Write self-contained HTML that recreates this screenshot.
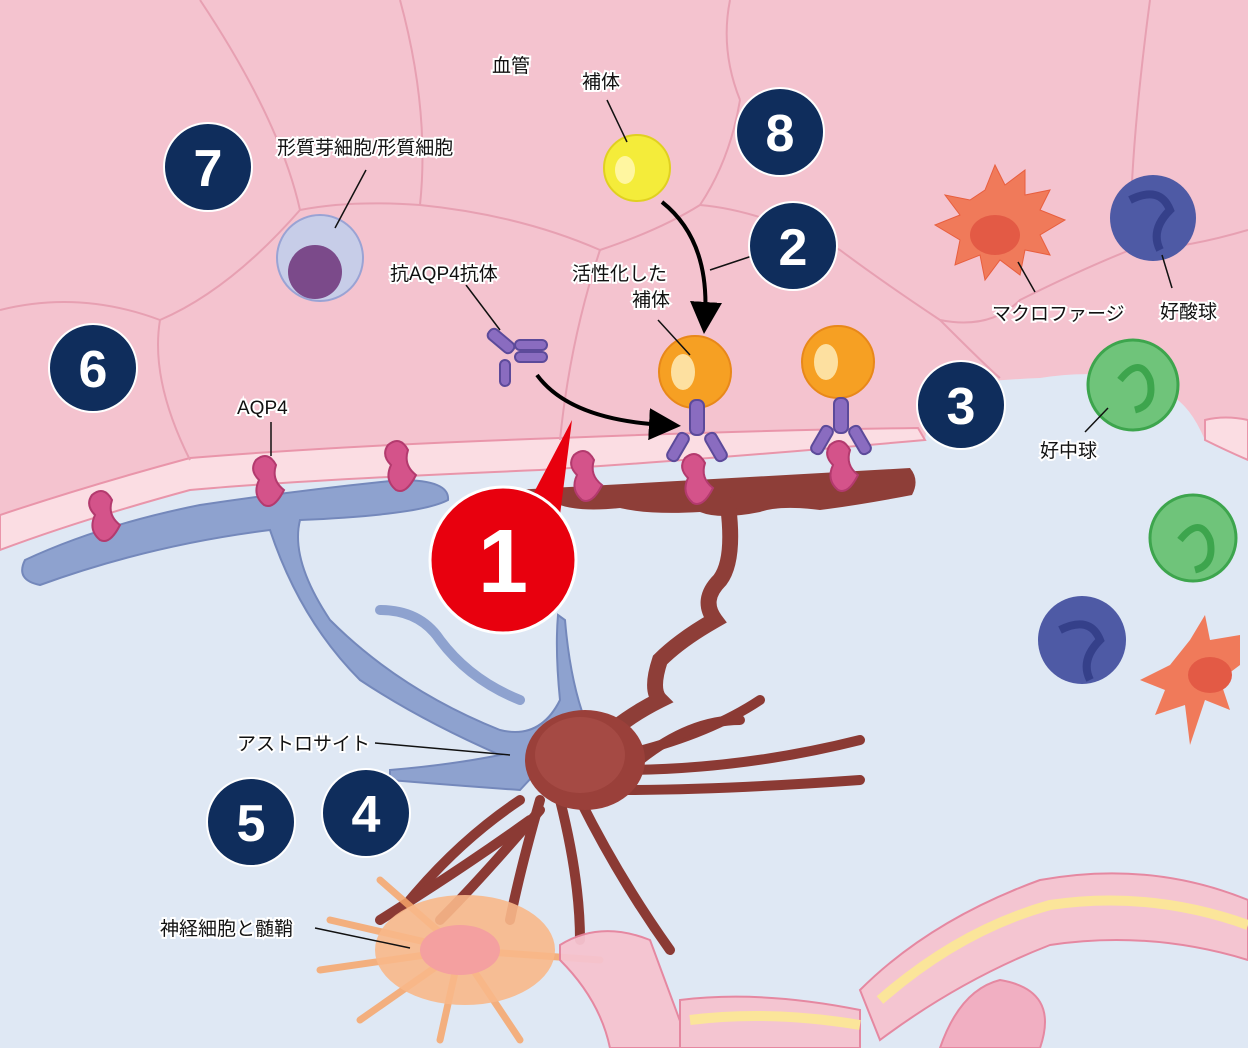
<!DOCTYPE html>
<html><head><meta charset="utf-8"><style>
html,body{margin:0;padding:0;background:#dfe8f4;}
svg{display:block}
text{font-family:"Liberation Sans","Noto Sans CJK JP",sans-serif;}
.lbl{font-size:19px;fill:#111;stroke:#fff;stroke-width:4px;paint-order:stroke;}
.num{font-size:52px;font-weight:bold;fill:#fff;text-anchor:middle;}
</style></head><body>
<svg width="1248" height="1048" viewBox="0 0 1248 1048" xmlns="http://www.w3.org/2000/svg">
<rect width="1248" height="1048" fill="#dfe8f4"/>
<path d="M0,0 H1248 V460 Q1225,450 1205,440 Q1190,405 1170,395 Q1120,365 1040,378 Q990,380 960,385 Q930,395 925,440 Q700,460 540,470 Q300,480 190,490 Q80,520 0,550 Z" fill="#f4c3cf"/>
<path d="M0,515 Q90,485 190,458 Q350,445 560,438 Q760,430 918,428 L925,440 Q700,460 540,470 Q300,480 190,490 Q80,520 0,550 Z" fill="#fbdde3" stroke="#e995aa" stroke-width="2"/>
<path d="M1248,420 Q1225,415 1205,420 L1205,440 Q1225,450 1248,460Z" fill="#fbdde3" stroke="#e995aa" stroke-width="2"/>
<g fill="none" stroke="#e7a0b2" stroke-width="2">
<path d="M0,310 Q80,290 160,320 Q230,290 300,210 Q350,200 420,205 Q520,215 600,250 Q660,230 700,205 Q730,160 740,100"/>
<path d="M160,320 Q150,380 190,460"/>
<path d="M300,210 Q280,120 200,0"/>
<path d="M600,250 Q570,340 560,440"/>
<path d="M700,205 Q760,210 840,250 Q880,280 940,320 Q990,330 1020,300 Q1080,270 1130,250 Q1180,250 1248,230"/>
<path d="M1130,250 Q1130,150 1150,0"/>
<path d="M740,100 Q720,50 730,0"/>
<path d="M420,205 Q430,110 400,0"/>
<path d="M940,320 Q990,370 1000,378"/>
</g>
<!-- blue astrocyte process -->
<path d="M25,560 Q100,525 200,505 Q300,490 400,480 Q450,480 448,500 Q420,515 300,520 Q290,560 330,620 Q400,690 500,730 Q540,740 560,700 Q555,650 558,615 L565,620 Q570,680 585,720 L520,790 Q450,785 390,780 L390,770 Q450,765 500,755 Q420,720 360,680 Q300,620 270,530 Q150,545 40,585 Q15,580 25,560Z" fill="#8ea2cf" stroke="#7488bb" stroke-width="2"/>
<path d="M380,610 Q420,610 440,640 Q470,680 520,700" fill="none" stroke="#8ea2cf" stroke-width="10" stroke-linecap="round"/>
<!-- brown end-foot -->
<path d="M512,490 Q700,480 910,468 Q920,480 912,495 Q860,505 820,510 Q780,505 760,512 Q720,520 700,512 Q650,515 620,508 Q580,512 560,505 Q530,500 512,490Z" fill="#8e3e38"/>
<path d="M728,505 Q735,560 720,580 Q700,600 715,620 Q680,640 660,660 Q650,690 660,700 Q620,720 590,750" fill="none" stroke="#8e3e38" stroke-width="16" stroke-linecap="round"/>
<g stroke="#8b3a34" stroke-width="10" stroke-linecap="round" fill="none">
<path d="M600,760 Q700,740 760,700"/><path d="M620,770 Q740,770 860,740"/>
<path d="M620,790 Q720,790 860,780"/><path d="M580,800 Q620,880 670,950"/>
<path d="M560,800 Q580,880 580,940"/><path d="M540,800 Q520,870 510,920"/>
<path d="M520,800 Q460,840 410,900"/><path d="M530,820 Q460,870 380,920"/>
<path d="M540,810 Q480,880 440,920"/><path d="M640,760 Q690,720 740,720"/>
</g>
<ellipse cx="585" cy="760" rx="60" ry="50" fill="#9a403a"/>
<ellipse cx="580" cy="755" rx="45" ry="38" fill="#a54a44"/>
<!-- neuron -->
<g stroke="#f7a66a" stroke-width="7" stroke-linecap="round" opacity="0.85">
<path d="M460,950 L330,920"/><path d="M460,950 L320,970"/><path d="M460,950 L360,1020"/><path d="M460,950 L440,1040"/><path d="M460,950 L520,1040"/><path d="M460,950 L600,960"/><path d="M460,950 L380,880"/>
</g>
<ellipse cx="465" cy="950" rx="90" ry="55" fill="#f8b88a" opacity="0.9"/>
<ellipse cx="460" cy="950" rx="40" ry="25" fill="#f4a0a0"/>
<g fill="#f6c4d0" stroke="#e6839d" stroke-width="2" opacity="0.95">
<path d="M560,945 Q600,920 650,940 L690,1048 H610 Q600,1000 560,960Z"/>
<path d="M680,1000 Q760,990 860,1010 L860,1048 H680Z"/>
<path d="M860,990 Q930,920 1040,880 Q1150,860 1248,900 V960 Q1150,930 1050,945 Q960,980 880,1040Z"/>
<path d="M940,1048 Q960,990 1000,980 Q1060,990 1040,1048Z" fill="#f3adc0"/>
</g>
<path d="M880,1000 Q960,930 1050,905 Q1150,890 1248,925" fill="none" stroke="#fbe59a" stroke-width="10"/>
<path d="M690,1020 Q770,1010 860,1025" fill="none" stroke="#fbe59a" stroke-width="10"/>
<g>
<path d="M985,190 l10,-25 l10,20 l20,-15 l0,25 l25,-5 l-10,20 l25,10 l-25,15 l10,20 l-25,-5 l-5,25 l-20,-15 l-15,20 l-5,-25 l-25,10 l5,-25 l-25,-15 l25,-10 l-15,-20 l25,5z" fill="#f07a5a" stroke="#e85e3e"/>
<ellipse cx="995" cy="235" rx="25" ry="20" fill="#e35a45"/>
<circle cx="1153" cy="218" r="43" fill="#4e5aa5"/><path d="M1130,200 q30,-15 40,10 q-20,20 -10,40" fill="none" stroke="#35408a" stroke-width="8"/>
<circle cx="1133" cy="385" r="45" fill="#6fc47a" stroke="#3da54d" stroke-width="3"/><path d="M1120,380 q20,-25 30,0 q5,25 -15,30" fill="none" stroke="#3da54d" stroke-width="7"/>
<circle cx="1193" cy="538" r="43" fill="#6fc47a" stroke="#3da54d" stroke-width="3"/><path d="M1180,540 q20,-25 30,0 q5,25 -15,30" fill="none" stroke="#3da54d" stroke-width="7"/>
<circle cx="1082" cy="640" r="44" fill="#4e5aa5"/><path d="M1060,630 q30,-15 40,10 q-20,20 -10,40" fill="none" stroke="#35408a" stroke-width="8"/>
<path d="M1190,640 l15,-25 l5,25 l30,-5 v30 l-20,15 l10,30 l-25,-10 l-15,45 l-5,-40 l-30,10 l10,-25 l-25,-10 l30,-15z" fill="#f07a5a"/>
<ellipse cx="1210" cy="675" rx="22" ry="18" fill="#e35a45"/>
<circle cx="320" cy="258" r="43" fill="#c7cde8" stroke="#9aa3d4" stroke-width="2"/><circle cx="315" cy="272" r="27" fill="#7b4a8a"/>
<circle cx="637" cy="168" r="33" fill="#f4ec3a" stroke="#e0d020" stroke-width="2"/><ellipse cx="625" cy="170" rx="10" ry="14" fill="#fff6a0"/>
</g>
<g fill="#f6a023" stroke="#e8881a" stroke-width="2">
<circle cx="695" cy="372" r="36"/><circle cx="838" cy="362" r="36"/>
</g>
<ellipse cx="683" cy="372" rx="12" ry="18" fill="#fde0a0"/><ellipse cx="826" cy="362" rx="12" ry="18" fill="#fde0a0"/>
<g fill="#8a6cc0" stroke="#5c4a9a" stroke-width="2">
<rect x="690" y="400" width="14" height="35" rx="6"/><rect x="672" y="432" width="12" height="30" rx="5" transform="rotate(30 678 447)"/><rect x="710" y="432" width="12" height="30" rx="5" transform="rotate(-30 716 447)"/>
<rect x="834" y="398" width="14" height="35" rx="6"/><rect x="816" y="425" width="12" height="30" rx="5" transform="rotate(30 822 440)"/><rect x="854" y="425" width="12" height="30" rx="5" transform="rotate(-30 860 440)"/>
<rect x="486" y="335" width="30" height="12" rx="5" transform="rotate(40 501 341)"/><rect x="515" y="340" width="32" height="10" rx="5"/><rect x="515" y="352" width="32" height="10" rx="5"/><rect x="500" y="360" width="10" height="26" rx="5"/>
</g>
<g fill="#d4538a" stroke="#b33a6e" stroke-width="2">
<path d="M92,495 q12,-10 20,5 q-5,15 8,25 q-10,20 -20,15 q-12,-10 -5,-25 q-10,-10 -3,-20z"/>
<path d="M256,460 q12,-10 20,5 q-5,15 8,25 q-10,20 -20,15 q-12,-10 -5,-25 q-10,-10 -3,-20z"/>
<path d="M388,445 q12,-10 20,5 q-5,15 8,25 q-10,20 -20,15 q-12,-10 -5,-25 q-10,-10 -3,-20z"/>
<path d="M574,455 q12,-10 20,5 q-5,15 8,25 q-10,20 -20,15 q-12,-10 -5,-25 q-10,-10 -3,-20z"/>
<path d="M685,458 q12,-10 20,5 q-5,15 8,25 q-10,20 -20,15 q-12,-10 -5,-25 q-10,-10 -3,-20z"/>
<path d="M830,445 q12,-10 20,5 q-5,15 8,25 q-10,20 -20,15 q-12,-10 -5,-25 q-10,-10 -3,-20z"/>
</g>
<defs><marker id="ah" markerWidth="8" markerHeight="8" refX="4" refY="4" orient="auto"><path d="M0,0 L8,4 L0,8 Z" fill="#000"/></marker></defs>
<path d="M662,202 Q710,240 705,318" fill="none" stroke="#000" stroke-width="4" marker-end="url(#ah)"/>
<path d="M537,375 Q570,420 665,425" fill="none" stroke="#000" stroke-width="4" marker-end="url(#ah)"/>
<g stroke="#111" stroke-width="1.5">
<line x1="366" y1="170" x2="335" y2="228"/><line x1="607" y1="100" x2="627" y2="142"/>
<line x1="658" y1="320" x2="690" y2="355"/><line x1="466" y1="285" x2="500" y2="330"/>
<line x1="271" y1="422" x2="271" y2="456"/><line x1="1018" y1="262" x2="1035" y2="292"/>
<line x1="1162" y1="255" x2="1172" y2="288"/><line x1="1108" y1="408" x2="1085" y2="432"/>
<line x1="375" y1="743" x2="510" y2="755"/><line x1="315" y1="928" x2="410" y2="948"/>
<line x1="710" y1="270" x2="755" y2="255"/>
</g>
<text class="lbl" x="492" y="72">血管</text>
<text class="lbl" x="582" y="88">補体</text>
<text class="lbl" x="277" y="154">形質芽細胞/形質細胞</text>
<text class="lbl" x="390" y="280">抗AQP4抗体</text>
<text class="lbl" x="572" y="280">活性化した</text>
<text class="lbl" x="632" y="306">補体</text>
<text class="lbl" x="237" y="414">AQP4</text>
<text class="lbl" x="992" y="320">マクロファージ</text>
<text class="lbl" x="1160" y="318">好酸球</text>
<text class="lbl" x="1040" y="457">好中球</text>
<text class="lbl" x="237" y="750">アストロサイト</text>
<text class="lbl" x="160" y="935">神経細胞と髄鞘</text>
<g fill="#0f2d5c" stroke="#fff" stroke-width="2">
<circle cx="208" cy="167" r="44"/><circle cx="780" cy="132" r="44"/><circle cx="793" cy="246" r="44"/>
<circle cx="93" cy="368" r="44"/><circle cx="961" cy="405" r="44"/><circle cx="251" cy="822" r="44"/><circle cx="366" cy="813" r="44"/>
</g>
<text class="num" x="208" y="186">7</text><text class="num" x="780" y="151">8</text><text class="num" x="793" y="265">2</text>
<text class="num" x="93" y="387">6</text><text class="num" x="961" y="424">3</text><text class="num" x="251" y="841">5</text><text class="num" x="366" y="832">4</text>
<path d="M530,500 L572,420 L560,515 Z" fill="#e8000e"/>
<circle cx="503" cy="560" r="73" fill="#e8000e" stroke="#fff" stroke-width="3"/>
<text x="503" y="592" font-size="90" font-weight="bold" fill="#fff" text-anchor="middle" font-family="Liberation Sans,sans-serif">1</text>
</svg>
</body></html>
